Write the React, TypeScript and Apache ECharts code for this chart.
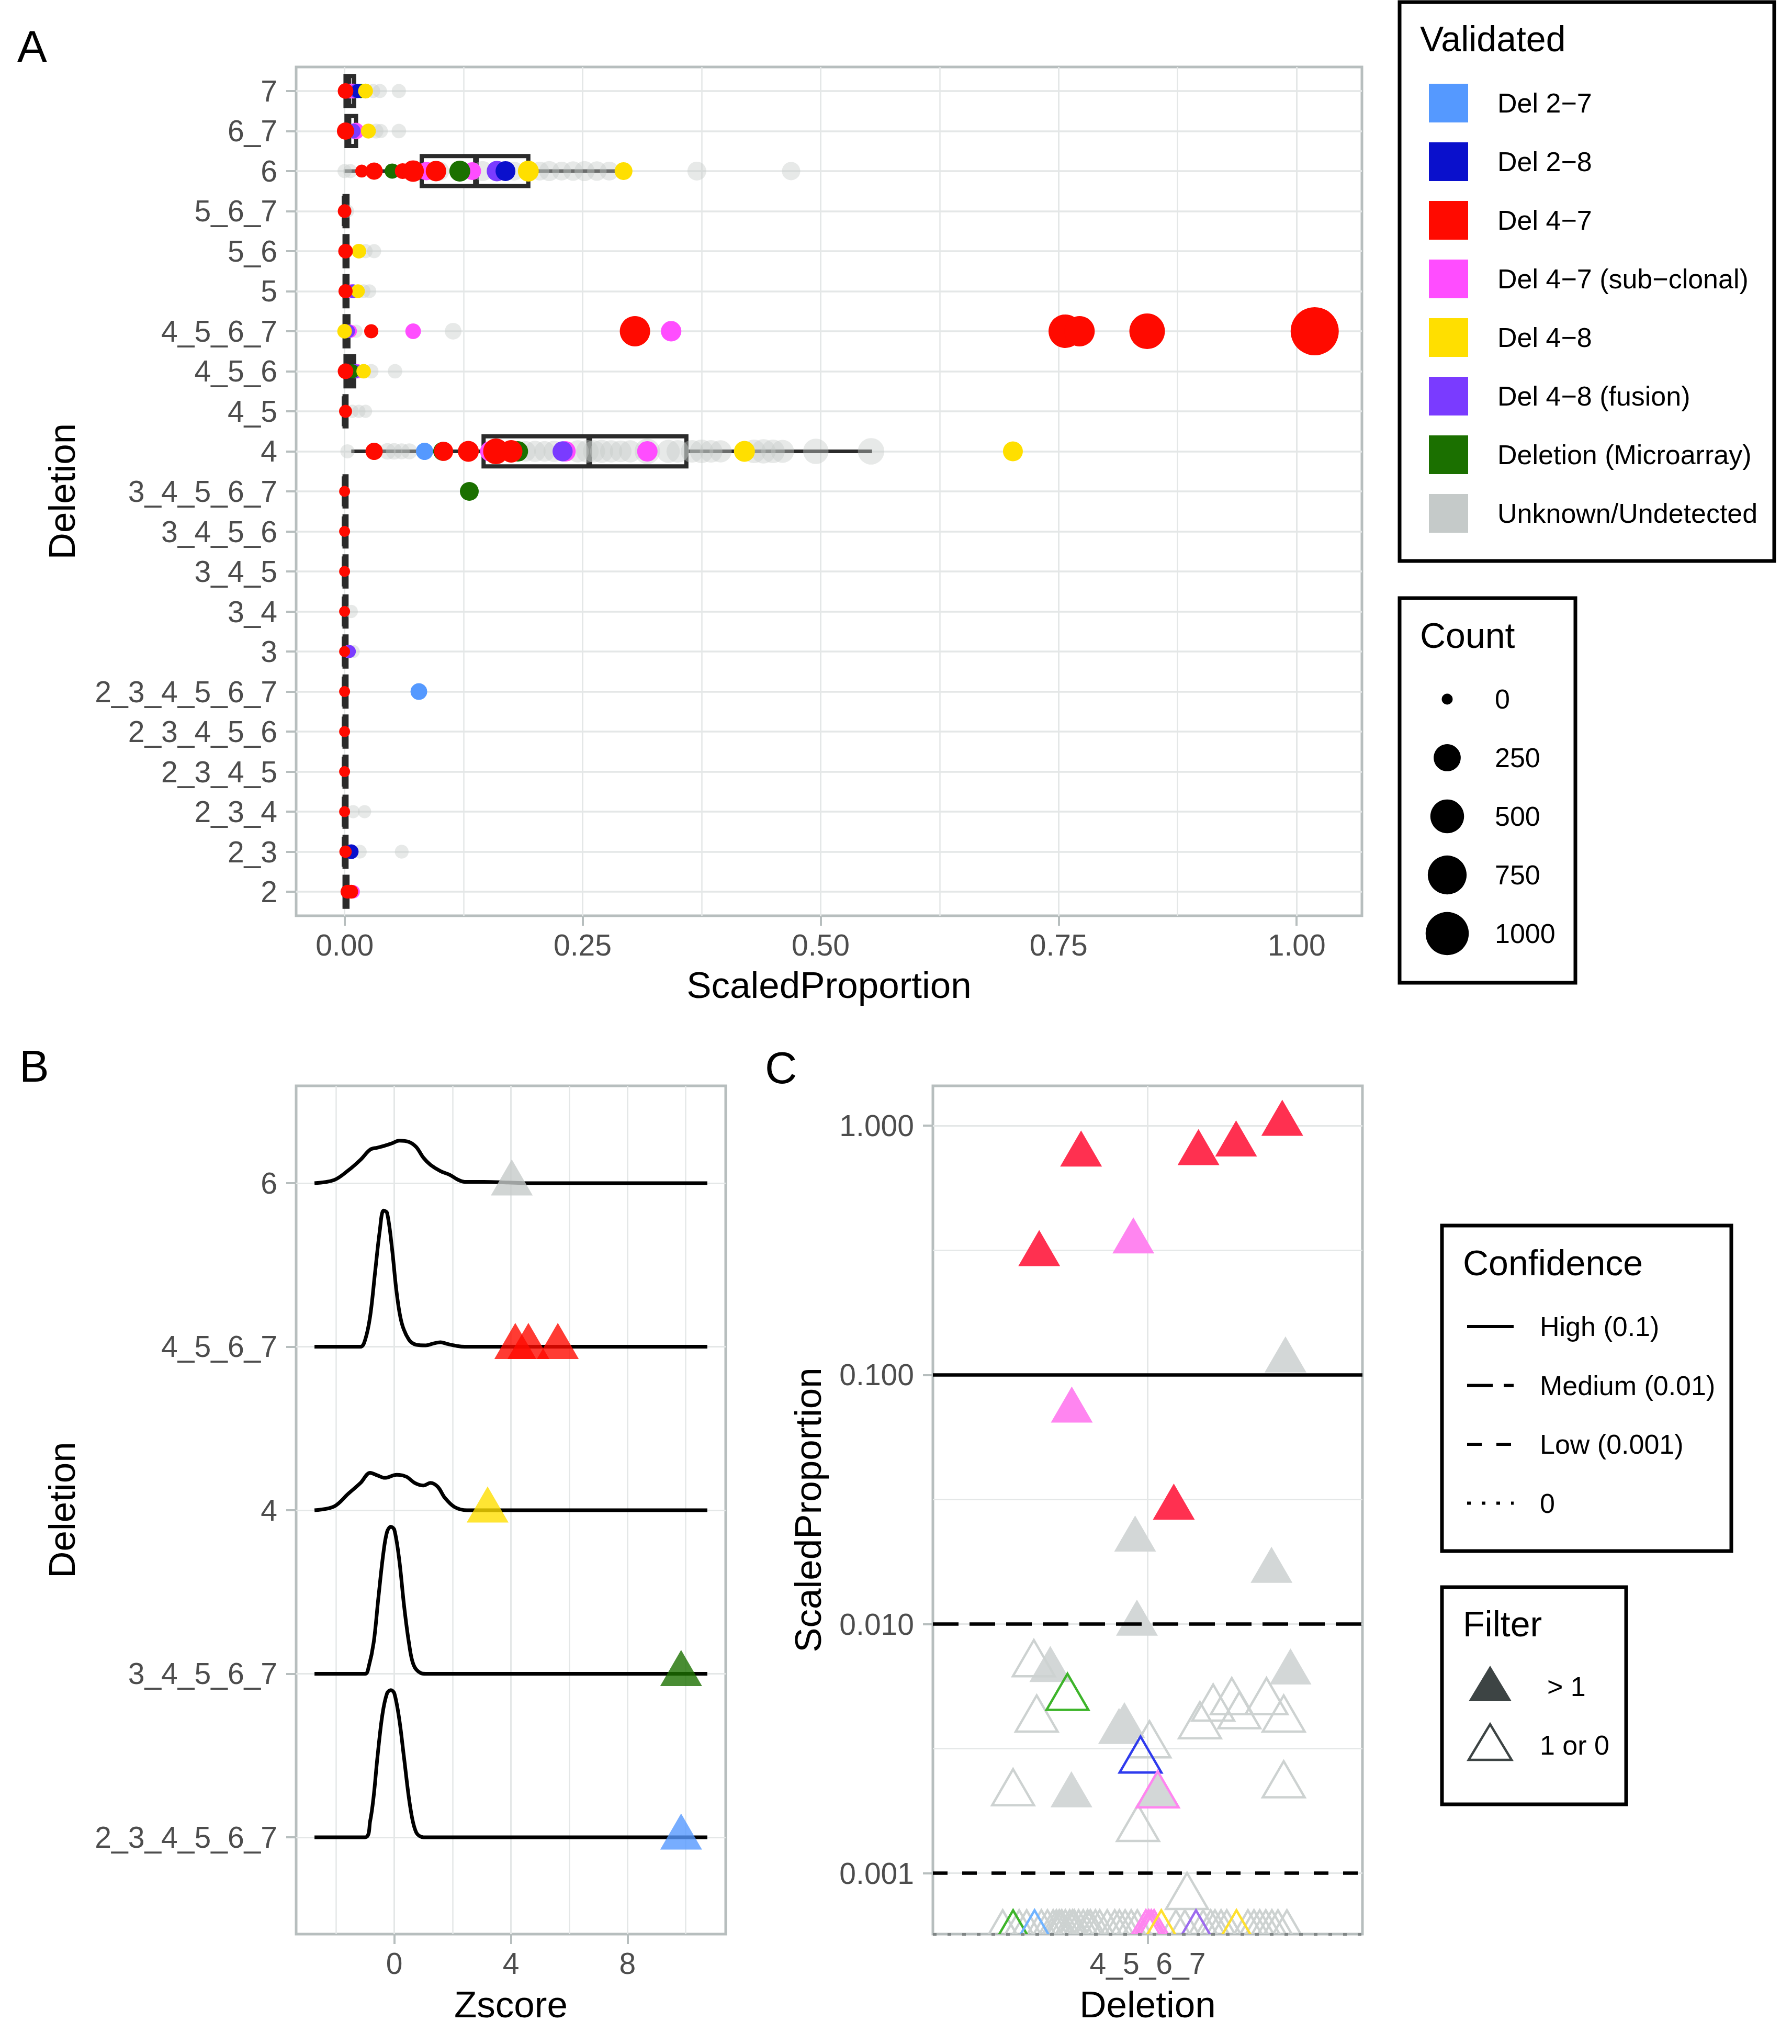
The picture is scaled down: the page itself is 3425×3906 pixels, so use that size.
import React, { useEffect, useRef } from "react";
import * as echarts from "echarts";

// ---------------- Panel A data ----------------
const deletionsA = ["2", "2_3", "2_3_4", "2_3_4_5", "2_3_4_5_6", "2_3_4_5_6_7", "3", "3_4", "3_4_5", "3_4_5_6", "3_4_5_6_7", "4", "4_5", "4_5_6", "4_5_6_7", "5", "5_6", "5_6_7", "6", "6_7", "7"];
const ticksA = [0, 0.25, 0.5, 0.75, 1];

const validatedGroups = ["Del 2−7", "Del 2−8", "Del 4−7", "Del 4−7 (sub−clonal)", "Del 4−8", "Del 4−8 (fusion)", "Deletion (Microarray)", "Unknown/Undetected"];
const validatedColors = ["#5599FF", "#0A10CC", "#FF0A00", "#FF4DFF", "#FFDF00", "#7A3BFF", "#1B7000", "#C5CAC9"];

// [deletion, scaledProportion, count]
const pointsUnknown = [
  ["7", 0.03, 10], ["7", 0.037, 10], ["7", 0.057, 10],
  ["6_7", 0.033, 15], ["6_7", 0.038, 10], ["6_7", 0.057, 12],
  ["6", 0.0, 10], ["6", 0.006, 10], ["6", 0.1, 60], ["6", 0.145, 80], ["6", 0.178, 60], ["6", 0.205, 60], ["6", 0.215, 80], ["6", 0.228, 60], ["6", 0.24, 70], ["6", 0.252, 80], ["6", 0.265, 70], ["6", 0.278, 60], ["6", 0.37, 60], ["6", 0.469, 52],
  ["5_6_7", 0.003, 5],
  ["5_6", 0.022, 10], ["5_6", 0.031, 10],
  ["5", 0.02, 8], ["5", 0.026, 8],
  ["4_5_6_7", 0.012, 5], ["4_5_6_7", 0.114, 32],
  ["4_5_6", 0.028, 12], ["4_5_6", 0.053, 12],
  ["4_5", 0.008, 5], ["4_5", 0.015, 5], ["4_5", 0.022, 5],
  ["4", 0.003, 10], ["4", 0.045, 30], ["4", 0.052, 30], ["4", 0.06, 25], ["4", 0.068, 25], ["4", 0.19, 90], ["4", 0.2, 100], ["4", 0.21, 90], ["4", 0.22, 100], ["4", 0.245, 120], ["4", 0.255, 130], ["4", 0.262, 120], ["4", 0.27, 140], ["4", 0.28, 120], ["4", 0.29, 110], ["4", 0.3, 120], ["4", 0.318, 200], ["4", 0.34, 140], ["4", 0.35, 130], ["4", 0.365, 130], ["4", 0.375, 150], ["4", 0.385, 130], ["4", 0.395, 120], ["4", 0.43, 150], ["4", 0.44, 170], ["4", 0.45, 150], ["4", 0.46, 140], ["4", 0.495, 200], ["4", 0.553, 230],
  ["3_4", 0.007, 5], ["3", 0.009, 5], ["2_3_4", 0.009, 5], ["2_3_4", 0.021, 5], ["2_3", 0.016, 8], ["2_3", 0.06, 8],
];
const pointsDel27 = [["4", 0.084, 38], ["2_3_4_5_6_7", 0.078, 32]];
const pointsDel28 = [["7", 0.014, 10], ["6", 0.169, 76], ["4", 0.174, 68], ["2_3", 0.007, 13]];
const pointsDel47Sub = [
  ["7", 0.006, 15], ["7", 0.009, 15], ["6_7", 0.012, 30], ["6", 0.086, 52], ["6", 0.134, 45], ["5", 0.007, 8],
  ["4_5_6_7", 0.006, 5], ["4_5_6_7", 0.072, 21], ["4_5_6_7", 0.343, 86], ["4_5_6", 0.013, 12],
  ["4", 0.153, 86], ["4", 0.232, 86], ["4", 0.318, 86], ["3", 0.004, 4], ["2", 0.009, 6],
];
const pointsDel48Fusion = [["7", 0.012, 10], ["6_7", 0.009, 15], ["6", 0.16, 86], ["5", 0.009, 8], ["4_5_6_7", 0.004, 5], ["4_5_6", 0.011, 10], ["4", 0.229, 80], ["3", 0.005, 4]];
const pointsMicroarray = [["7", 0.017, 10], ["6", 0.05, 17], ["6", 0.121, 95], ["4_5_6", 0.008, 10], ["4", 0.103, 59], ["4", 0.182, 86], ["3_4_5_6_7", 0.131, 59]];
const pointsDel48 = [["7", 0.022, 15], ["6_7", 0.025, 15], ["6", 0.193, 95], ["6", 0.293, 45], ["5_6", 0.015, 13], ["5", 0.014, 8], ["4_5_6_7", 0.0, 13], ["4_5_6", 0.02, 12], ["4", 0.42, 95], ["4", 0.702, 76]];
const pointsDel47 = [
  ["7", 0.001, 21], ["6_7", 0.001, 38],
  ["6", 0.018, 4], ["6", 0.031, 38], ["6", 0.061, 21], ["6", 0.072, 106], ["6", 0.096, 86],
  ["5_6_7", 0.0, 7], ["5_6", 0.001, 13], ["5", 0.001, 10],
  ["4_5_6_7", 0.028, 10], ["4_5_6_7", 0.305, 362], ["4_5_6_7", 0.757, 489], ["4_5_6_7", 0.772, 362], ["4_5_6_7", 0.843, 584], ["4_5_6_7", 1.019, 1333],
  ["4_5_6", 0.001, 21], ["4_5", 0.001, 4],
  ["4", 0.031, 38], ["4", 0.104, 64], ["4", 0.13, 95], ["4", 0.159, 207], ["4", 0.175, 128],
  ["3_4_5_6_7", 0, 0], ["3_4_5_6", 0, 0], ["3_4_5", 0, 0], ["3_4", 0, 0], ["3", 0, 0],
  ["2_3_4_5_6_7", 0, 0], ["2_3_4_5_6", 0, 0], ["2_3_4_5", 0, 0], ["2_3_4", 0, 0], ["2_3", 0.001, 2], ["2", 0.003, 8], ["2", 0.007, 8],
];
// drawing order (grey first) and the legend index of each list
const drawOrderA = [
  [7, pointsUnknown], [0, pointsDel27], [3, pointsDel47Sub], [5, pointsDel48Fusion], [6, pointsMicroarray], [1, pointsDel28], [4, pointsDel48], [2, pointsDel47],
];

// [deletion, lowerWhisker, q1, median, q3, upperWhisker]
const boxStatsA = [
  ["7", 0, 0.001, 0.004, 0.01, 0.022],
  ["6_7", 0, 0.002, 0.004, 0.012, 0.03],
  ["6", 0, 0.081, 0.138, 0.193, 0.284],
  ["5_6_7", 0, 0, 0, 0.003, 0.003],
  ["5_6", 0, 0, 0.001, 0.003, 0.015],
  ["5", 0, 0, 0.001, 0.003, 0.014],
  ["4_5_6_7", 0, 0, 0.001, 0.004, 0.006],
  ["4_5_6", 0, 0.001, 0.005, 0.01, 0.02],
  ["4_5", 0, 0, 0, 0.002, 0.002],
  ["4", 0.007, 0.146, 0.257, 0.359, 0.554],
  ["3_4_5_6_7", 0, 0, 0, 0.002, 0.002],
  ["3_4_5_6", 0, 0, 0, 0.002, 0.002],
  ["3_4_5", 0, 0, 0, 0.002, 0.002],
  ["3_4", 0, 0, 0, 0.002, 0.002],
  ["3", 0, 0, 0, 0.002, 0.002],
  ["2_3_4_5_6_7", 0, 0, 0, 0.002, 0.002],
  ["2_3_4_5_6", 0, 0, 0, 0.002, 0.002],
  ["2_3_4_5", 0, 0, 0, 0.002, 0.002],
  ["2_3_4", 0, 0, 0, 0.002, 0.002],
  ["2_3", 0, 0, 0, 0.002, 0.002],
  ["2", 0, 0, 0.001, 0.003, 0.003],
];
const countBreaks = [0, 250, 500, 750, 1000];

// ---------------- Panel B data ----------------
const ridgeDeletions = ["2_3_4_5_6_7", "3_4_5_6_7", "4", "4_5_6_7", "6"];
const ticksB = [0, 4, 8];
// [Zscore, density height in row units]
const ridge234567 = [[-2.74, 0], [-1.0, 0], [-0.83, 0.1], [-0.71, 0.25], [-0.58, 0.49], [-0.41, 0.75], [-0.25, 0.88], [-0.12, 0.9], [0, 0.88], [0.17, 0.72], [0.33, 0.49], [0.55, 0.18], [0.75, 0.03], [1.0, 0], [10.74, 0]];
const ridge34567 = [[-2.74, 0], [-1.0, 0], [-0.88, 0.043], [-0.71, 0.19], [-0.55, 0.461], [-0.38, 0.733], [-0.25, 0.868], [-0.12, 0.899], [0, 0.88], [0.17, 0.694], [0.33, 0.422], [0.5, 0.19], [0.66, 0.054], [0.91, 0.004], [1.08, 0], [10.74, 0]];
const ridge4 = [[-2.74, 0], [-2.07, 0.023], [-1.58, 0.101], [-1.16, 0.167], [-0.83, 0.229], [-0.58, 0.213], [-0.33, 0.198], [0.08, 0.217], [0.41, 0.205], [0.7, 0.167], [1.0, 0.151], [1.24, 0.167], [1.49, 0.143], [1.74, 0.074], [2.07, 0.019], [2.49, 0], [10.74, 0]];
const ridge4567 = [[-2.74, 0], [-1.16, 0], [-1.0, 0.043], [-0.83, 0.186], [-0.66, 0.457], [-0.5, 0.709], [-0.37, 0.833], [-0.25, 0.818], [-0.08, 0.601], [0.08, 0.329], [0.25, 0.147], [0.5, 0.043], [0.75, 0.012], [1.08, 0.008], [1.33, 0.019], [1.58, 0.027], [1.83, 0.016], [2.16, 0.004], [2.41, 0], [10.74, 0]];
const ridge6 = [[-2.74, 0], [-2.07, 0.019], [-1.58, 0.078], [-1.16, 0.143], [-0.83, 0.205], [-0.58, 0.217], [-0.33, 0.229], [-0.08, 0.244], [0.17, 0.26], [0.5, 0.252], [0.75, 0.221], [1.0, 0.155], [1.24, 0.112], [1.58, 0.074], [1.91, 0.05], [2.16, 0.023], [2.41, 0.008], [3.07, 0.008], [3.9, 0.004], [4.56, 0], [10.74, 0]];
const ridgeDensities = [ridge234567, ridge34567, ridge4, ridge4567, ridge6];
// [deletion, Zscore, validated]
const zscorePoints = [
  ["6", 4.03, "Unknown/Undetected"],
  ["4_5_6_7", 4.15, "Del 4−7"], ["4_5_6_7", 4.6, "Del 4−7"], ["4_5_6_7", 5.61, "Del 4−7"],
  ["4", 3.2, "Del 4−8"],
  ["3_4_5_6_7", 9.84, "Deletion (Microarray)"],
  ["2_3_4_5_6_7", 9.84, "Del 2−7"],
];

// ---------------- Panel C data ----------------
const ticksC = [0.001, 0.01, 0.1, 1];
const confidenceLabels = ["High (0.1)", "Medium (0.01)", "Low (0.001)", "0"];
const confidenceLevels = [0.1, 0.01, 0.001, 0];
const filterLabels = ["> 1", "1 or 0"];
// [jittered x, scaledProportion, validated]  (Filter > 1)
const cFilled = [
  [0.814, 0.768, "Del 4−7"], [0.697, 0.306, "Del 4−7"], [0.96, 0.344, "Del 4−7 (sub−clonal)"], [1.142, 0.778, "Del 4−7"],
  [1.247, 0.843, "Del 4−7"], [1.376, 1.02, "Del 4−7"], [1.385, 0.1146, "Unknown/Undetected"], [0.788, 0.0721, "Del 4−7 (sub−clonal)"],
  [1.073, 0.0294, "Del 4−7"], [0.965, 0.0219, "Unknown/Undetected"], [1.346, 0.0164, "Unknown/Undetected"], [0.97, 0.01006, "Unknown/Undetected"],
  [0.728, 0.00656, "Unknown/Undetected"], [1.399, 0.00641, "Unknown/Undetected"], [0.92, 0.0037, "Unknown/Undetected"], [0.935, 0.0039, "Unknown/Undetected"],
  [0.787, 0.00206, "Unknown/Undetected"], [1.028, 0.00206, "Unknown/Undetected"],
];
// (Filter 1 or 0)
const cHollow = [
  [0.682, 0.00692, "Unknown/Undetected"], [0.69, 0.00415, "Unknown/Undetected"], [1.005, 0.00327, "Unknown/Undetected"], [0.624, 0.0021, "Unknown/Undetected"],
  [0.973, 0.00151, "Unknown/Undetected"], [1.146, 0.0039, "Unknown/Undetected"], [1.183, 0.00459, "Unknown/Undetected"], [1.235, 0.00487, "Unknown/Undetected"],
  [1.256, 0.00428, "Unknown/Undetected"], [1.332, 0.00487, "Unknown/Undetected"], [1.38, 0.00415, "Unknown/Undetected"], [1.38, 0.00226, "Unknown/Undetected"],
  [1.11, 0.000805, "Unknown/Undetected"],
  [0.595, 0, "Unknown/Undetected"], [0.641, 0, "Unknown/Undetected"], [0.662, 0, "Unknown/Undetected"], [0.703, 0, "Unknown/Undetected"], [0.72, 0, "Unknown/Undetected"],
  [0.736, 0, "Unknown/Undetected"], [0.745, 0, "Unknown/Undetected"], [0.753, 0, "Unknown/Undetected"], [0.76, 0, "Unknown/Undetected"], [0.77, 0, "Unknown/Undetected"],
  [0.782, 0, "Unknown/Undetected"], [0.79, 0, "Unknown/Undetected"], [0.795, 0, "Unknown/Undetected"], [0.807, 0, "Unknown/Undetected"], [0.82, 0, "Unknown/Undetected"],
  [0.832, 0, "Unknown/Undetected"], [0.84, 0, "Unknown/Undetected"], [0.854, 0, "Unknown/Undetected"], [0.866, 0, "Unknown/Undetected"], [0.887, 0, "Unknown/Undetected"],
  [0.908, 0, "Unknown/Undetected"], [0.921, 0, "Unknown/Undetected"], [0.937, 0, "Unknown/Undetected"], [0.954, 0, "Unknown/Undetected"], [0.971, 0, "Unknown/Undetected"],
  [1.079, 0, "Unknown/Undetected"], [1.104, 0, "Unknown/Undetected"], [1.155, 0, "Unknown/Undetected"], [1.176, 0, "Unknown/Undetected"], [1.188, 0, "Unknown/Undetected"],
  [1.205, 0, "Unknown/Undetected"], [1.221, 0, "Unknown/Undetected"], [1.28, 0, "Unknown/Undetected"], [1.297, 0, "Unknown/Undetected"], [1.313, 0, "Unknown/Undetected"],
  [1.33, 0, "Unknown/Undetected"], [1.347, 0, "Unknown/Undetected"], [1.364, 0, "Unknown/Undetected"], [1.389, 0, "Unknown/Undetected"],
  [0.624, 0, "Deletion (Microarray)"], [0.684, 0, "Del 2−7"], [0.995, 0, "Del 4−7 (sub−clonal)"], [1.003, 0, "Del 4−7 (sub−clonal)"], [1.01, 0, "Del 4−7 (sub−clonal)"],
  [1.018, 0, "Del 4−7 (sub−clonal)"], [1.038, 0, "Del 4−8"], [1.135, 0, "Del 4−8 (fusion)"], [1.248, 0, "Del 4−8"],
  [0.776, 0.00507, "Deletion (Microarray)"], [0.98, 0.00284, "Del 2−8"], [1.028, 0.00206, "Del 4−7 (sub−clonal)"],
];
const panelCFill = ["#70B3FF", "#3040EE", "#FF3050", "#FF85F0", "#FFE34D", "#A070F0", "#40B42C", "#D3D7D7"];
const panelCStroke = ["#70B3FF", "#2F3BEE", "#FF3050", "#FF85F0", "#FFE02E", "#9C6BEE", "#3DB42A", "#CDD2D1"];

// ---------------- styling ----------------
const FONT = "'Liberation Sans', Arial, Helvetica, sans-serif";
const AXIS_TEXT = "#4D4D4D";
const BORDER = "#B7BEBE";
const GRIDC = "#E4E7E7";
const TICK_FONT = 57;
const TITLE_FONT = 71;
const LEG_TEXT = 52;
const LEG_TITLE = 68;
const TRI_W = 80;
const TRI_H = 69;
const TRI_OFF = 11;

const A_GRID = { left: 566, top: 128, width: 2037, height: 1622 };
const B_GRID = { left: 566, top: 2075, width: 821, height: 1621 };
const C_GRID = { left: 1783, top: 2075, width: 821, height: 1621 };
const C_YMIN = 0.00057;
const C_YMAX = 1.445;

const sizeForCount = (c: number) => 21 + 61.5 * Math.sqrt(Math.max(c, 0) / 1000);

function valueAxis(gridIndex: number, min: number, max: number, ticks: number[], formatter: any, extra: any = {}) {
  return {
    type: "value",
    gridIndex,
    min,
    max,
    axisLine: { show: false, onZero: false },
    axisTick: { show: true, length: 19, customValues: ticks, lineStyle: { color: BORDER, width: 4 } },
    axisLabel: { customValues: ticks, formatter, color: AXIS_TEXT, fontSize: TICK_FONT, fontFamily: FONT, margin: 27 },
    splitLine: { show: true, lineStyle: { color: GRIDC, width: 3 } },
    ...extra,
  };
}

function gridLineSeries(xi: number, key: string, values: number[], width: number) {
  return {
    type: "scatter",
    xAxisIndex: xi,
    yAxisIndex: xi,
    data: [],
    silent: true,
    markLine: {
      silent: true,
      z: 1,
      precision: 10,
      symbol: ["none", "none"],
      label: { show: false },
      lineStyle: { color: GRIDC, width, type: "solid" },
      data: values.map((v) => ({ [key]: v })),
    },
  };
}

function triangleSeries(list: any[], hollow: boolean) {
  return {
    type: "custom",
    xAxisIndex: 2,
    yAxisIndex: 2,
    clip: true,
    encode: { x: 0, y: 1 },
    data: list.map((p) => [p[0], Math.max(p[1], C_YMIN)]),
    renderItem: (params: any, api: any) => {
      const g = validatedGroups.indexOf(list[params.dataIndex][2]);
      const pt = api.coord([api.value(0), api.value(1)]);
      const cx = pt[0];
      const cy = pt[1] - TRI_OFF;
      const points = [[cx, cy - TRI_H / 2], [cx + TRI_W / 2, cy + TRI_H / 2], [cx - TRI_W / 2, cy + TRI_H / 2]];
      return {
        type: "polygon",
        shape: { points },
        style: hollow
          ? { fill: "none", stroke: panelCStroke[g], lineWidth: 4.5 }
          : { fill: panelCFill[g] },
      };
    },
  };
}

function txt(text: string, x: number, y: number, size: number, opts: any = {}) {
  return {
    type: "text",
    x,
    y,
    rotation: opts.rotation || 0,
    style: {
      text,
      fill: opts.color || "#000",
      fontSize: size,
      fontFamily: FONT,
      textAlign: opts.align || "left",
      align: opts.align || "left",
      textVerticalAlign: "middle",
      verticalAlign: "middle",
    },
  };
}

function buildOption() {
  const idxA = (d: string) => deletionsA.indexOf(d);

  // ---- Panel A series ----
  const boxSeries = {
    type: "custom",
    xAxisIndex: 0,
    yAxisIndex: 0,
    encode: { x: [1, 2, 3, 4, 5], y: 0 },
    data: boxStatsA.map((b) => [idxA(b[0] as string), b[1], b[2], b[3], b[4], b[5]]),
    renderItem: (params: any, api: any) => {
      const yi = api.value(0);
      const lo = api.coord([api.value(1), yi]);
      const q1 = api.coord([api.value(2), yi]);
      const md = api.coord([api.value(3), yi]);
      const q3 = api.coord([api.value(4), yi]);
      const hi = api.coord([api.value(5), yi]);
      const half = api.size([0, 1])[1] * 0.375;
      const stroke = "#2B2B2B";
      return {
        type: "group",
        children: [
          { type: "line", shape: { x1: lo[0], y1: lo[1], x2: q1[0], y2: q1[1] }, style: { stroke, lineWidth: 7 } },
          { type: "line", shape: { x1: q3[0], y1: q3[1], x2: hi[0], y2: hi[1] }, style: { stroke, lineWidth: 7 } },
          { type: "rect", shape: { x: q1[0], y: q1[1] - half, width: q3[0] - q1[0], height: 2 * half }, style: { fill: "#fff", stroke, lineWidth: 8 } },
          { type: "line", shape: { x1: md[0], y1: md[1] - half, x2: md[0], y2: md[1] + half }, style: { stroke, lineWidth: 11 } },
        ],
      };
    },
  };
  const pointSeriesA = drawOrderA.map(([gi, pts]: any) => ({
    type: "scatter",
    xAxisIndex: 0,
    yAxisIndex: 0,
    data: pts.map((p: any) => [p[1], idxA(p[0]), p[2]]),
    symbolSize: (v: any) => sizeForCount(v[2]),
    itemStyle: { color: validatedColors[gi], opacity: gi === 7 ? 0.42 : 1 },
  }));
  const minorA = ticksA.slice(0, -1).map((v, i) => (v + ticksA[i + 1]) / 2);

  // ---- Panel B series ----
  const ridgeSeries = ridgeDensities.map((dens, i) => ({
    type: "line",
    xAxisIndex: 1,
    yAxisIndex: 1,
    data: dens.map(([z, h]) => [z, i + h]),
    showSymbol: false,
    smooth: 0.35,
    lineStyle: { color: "#000", width: 7 },
    z: 3,
  }));
  const zSeries = {
    type: "scatter",
    xAxisIndex: 1,
    yAxisIndex: 1,
    symbol: "triangle",
    symbolSize: [TRI_W, TRI_H],
    symbolOffset: [0, -TRI_OFF],
    z: 4,
    data: zscorePoints.map(([d, z, g]: any) => ({
      value: [z, ridgeDeletions.indexOf(d)],
      itemStyle: { color: validatedColors[validatedGroups.indexOf(g)] },
    })),
  };
  const minorB = ticksB.map((v) => v - 2).concat([ticksB[ticksB.length - 1] + 2]);

  // ---- Panel C series ----
  const minorC = ticksC.slice(0, -1).map((v) => v * Math.sqrt(10));
  const dashFor = [[1, 0], [49, 21], [28, 28], [7, 21]];
  const confSeries = {
    type: "scatter",
    xAxisIndex: 2,
    yAxisIndex: 2,
    data: [],
    silent: true,
    markLine: {
      silent: true,
      z: 5,
      precision: 10,
      symbol: ["none", "none"],
      label: { show: false },
      data: confidenceLevels.map((v, i) => ({
        yAxis: Math.max(v, C_YMIN),
        lineStyle: {
          color: v === 0 ? "#7F8585" : "#000",
          width: v === 0 ? 5 : 6.5,
          type: i === 0 ? "solid" : dashFor[i],
        },
      })),
    },
  };

  // ---- graphics: legends, titles, tags ----
  const g: any[] = [];
  g.push(txt("A", 33, 88, 85));
  g.push(txt("B", 37, 2037, 85));
  g.push(txt("C", 1462, 2040, 85));

  g.push(txt("Deletion", 118, A_GRID.top + A_GRID.height / 2, TITLE_FONT, { align: "center", rotation: Math.PI / 2 }));
  g.push(txt("ScaledProportion", A_GRID.left + A_GRID.width / 2, 1882, TITLE_FONT, { align: "center" }));
  g.push(txt("Deletion", 118, B_GRID.top + B_GRID.height / 2, TITLE_FONT, { align: "center", rotation: Math.PI / 2 }));
  g.push(txt("Zscore", B_GRID.left + B_GRID.width / 2, 3830, TITLE_FONT, { align: "center" }));
  g.push(txt("ScaledProportion", 1544, C_GRID.top + C_GRID.height / 2, TITLE_FONT, { align: "center", rotation: Math.PI / 2 }));
  g.push(txt("Deletion", C_GRID.left + C_GRID.width / 2, 3830, TITLE_FONT, { align: "center" }));

  // Validated legend
  g.push({ type: "rect", shape: { x: 2675, y: 4, width: 716, height: 1068 }, style: { fill: "#fff", stroke: "#000", lineWidth: 7 } });
  g.push(txt("Validated", 2714, 74, LEG_TITLE));
  validatedGroups.forEach((name, i) => {
    const cy = 197 + i * 112;
    g.push({ type: "rect", shape: { x: 2731, y: cy - 37, width: 75, height: 74 }, style: { fill: validatedColors[i] } });
    g.push(txt(name, 2862, cy, LEG_TEXT));
  });

  // Count legend
  g.push({ type: "rect", shape: { x: 2675, y: 1143, width: 336, height: 735 }, style: { fill: "#fff", stroke: "#000", lineWidth: 7 } });
  g.push(txt("Count", 2714, 1214, LEG_TITLE));
  countBreaks.forEach((c, i) => {
    const cy = 1336 + i * 112;
    g.push({ type: "circle", shape: { cx: 2766, cy, r: sizeForCount(c) / 2 }, style: { fill: "#000" } });
    g.push(txt(String(c), 2857, cy, LEG_TEXT));
  });

  // Confidence legend
  g.push({ type: "rect", shape: { x: 2756, y: 2342, width: 553, height: 622 }, style: { fill: "#fff", stroke: "#000", lineWidth: 7 } });
  g.push(txt("Confidence", 2796, 2413, LEG_TITLE));
  confidenceLabels.forEach((lab, i) => {
    const cy = 2535 + i * 112.5;
    g.push({
      type: "line",
      shape: { x1: 2804, y1: cy, x2: 2893, y2: cy },
      style: { stroke: "#000", lineWidth: 6, lineDash: i === 0 ? null : dashFor[i] },
    });
    g.push(txt(lab, 2943, cy, LEG_TEXT));
  });

  // Filter legend
  g.push({ type: "rect", shape: { x: 2756, y: 3033, width: 352, height: 415 }, style: { fill: "#fff", stroke: "#000", lineWidth: 7 } });
  g.push(txt("Filter", 2796, 3103, LEG_TITLE));
  filterLabels.forEach((lab, i) => {
    const cy = 3217 + i * 112;
    const cx = 2848;
    const pts = [[cx, cy - 34], [cx + 41, cy + 34], [cx - 41, cy + 34]];
    g.push({
      type: "polygon",
      shape: { points: pts },
      style: i === 0 ? { fill: "#3D4444" } : { fill: "none", stroke: "#3D4444", lineWidth: 4.5 },
    });
    g.push(txt(lab, i === 0 ? 2957 : 2943, cy + 6, LEG_TEXT));
  });

  const yLabel = (list: string[]) => ({
    customValues: list.map((_, i) => i),
    formatter: (v: number) => list[Math.round(v)],
    color: AXIS_TEXT,
    fontSize: TICK_FONT,
    fontFamily: FONT,
    margin: 36,
  });

  return {
    animation: false,
    backgroundColor: "#ffffff",
    textStyle: { fontFamily: FONT },
    grid: [A_GRID, B_GRID, C_GRID].map((gr) => ({ ...gr, show: true, borderColor: BORDER, borderWidth: 5, backgroundColor: "transparent" })),
    xAxis: [
      valueAxis(0, -0.0509, 1.0686, ticksA, (v: number) => v.toFixed(2), { position: "bottom" }),
      valueAxis(1, -3.37, 11.37, ticksB, (v: number) => String(v), { position: "bottom" }),
      valueAxis(2, 0.4, 1.6, [1], () => "4_5_6_7", { position: "bottom" }),
    ],
    yAxis: [
      valueAxis(0, -0.6, deletionsA.length - 0.4, deletionsA.map((_, i) => i), null, {
        position: "left",
        axisLabel: yLabel(deletionsA),
        splitLine: { show: true, lineStyle: { color: GRIDC, width: 3.5 } },
      }),
      valueAxis(1, -0.592, ridgeDeletions.length - 0.405, ridgeDeletions.map((_, i) => i), null, {
        position: "left",
        axisLabel: yLabel(ridgeDeletions),
      }),
      {
        ...valueAxis(2, C_YMIN, C_YMAX, ticksC, null),
        type: "log",
        logBase: 10,
        position: "left",
        axisLabel: { customValues: ticksC, formatter: (v: number) => v.toFixed(3), color: AXIS_TEXT, fontSize: TICK_FONT, fontFamily: FONT, margin: 36 },
      },
    ],
    series: [
      gridLineSeries(0, "xAxis", minorA, 2.5),
      boxSeries,
      ...pointSeriesA,
      gridLineSeries(1, "xAxis", minorB, 2.5),
      ...ridgeSeries,
      zSeries,
      gridLineSeries(2, "yAxis", minorC, 2.5),
      triangleSeries(cFilled, false),
      triangleSeries(cHollow, true),
      confSeries,
    ],
    graphic: { elements: g },
  };
}

export default function App() {
  const ref = useRef<HTMLDivElement>(null);
  useEffect(() => {
    if (!ref.current) return;
    const chart = echarts.init(ref.current, undefined, { renderer: "svg" });
    chart.setOption(buildOption() as any);
    return () => chart.dispose();
  }, []);
  return <div ref={ref} style={{ position: "absolute", left: 0, top: 0, width: 3425, height: 3906, background: "#fff" }} />;
}
